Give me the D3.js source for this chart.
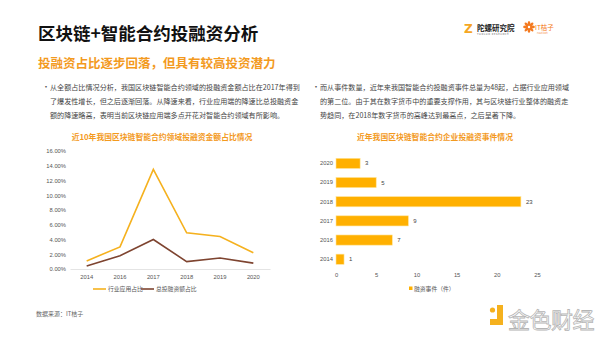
<!DOCTYPE html>
<html><head><meta charset="utf-8">
<script src="https://cdn.jsdelivr.net/npm/d3@7"></script>
<style>
body{margin:0;background:#fff;}
svg{display:block;font-family:"Noto Sans CJK SC","Noto Sans",sans-serif;}
</style></head><body>
<svg id="c" width="600" height="338"></svg>
<script>
const years = ["2014","2016","2017","2018","2019","2020"];
const industryShare = [0.011,0.030,0.135,0.049,0.044,0.022];
const totalShare = [0.004,0.018,0.040,0.010,0.015,0.008];
const yTicks = [0,0.02,0.04,0.06,0.08,0.10,0.12,0.14,0.16];
const barYears = ["2020","2019","2018","2017","2016","2014"];
const barValues = [3,5,23,9,7,1];
const xTicks = [0,5,10,15,20,25];
const leftText = ["从全额占比情况分析，我国区块链智能合约领域的投融资金额占比在2017年得到",
 "了爆发性增长，但之后逐渐回落。从降速来看，行业应用端的降速比总投融资金",
 "额的降速略高，表明当前区块链应用端多点开花对智能合约领域有所影响。"];
const rightText = ["而从事件数量，近年来我国智能合约投融资事件总量为48起，占据行业应用领域",
 "的第二位。由于其在数字货币中的重要支撑作用，其与区块链行业整体的融资走",
 "势趋同，在2018年数字货币的高峰达到最高点，之后呈著下降。"];

const svg = d3.select("#c");
const YEL="#F5B11E", BRN="#7E4430", ORG="#F39A1E", BAR="#FFB000";

// headers
svg.append("text").attr("x",38).attr("y",40).attr("font-size",17.5).attr("font-weight",700).attr("fill","#111").text("区块链+智能合约投融资分析");
svg.append("text").attr("x",38).attr("y",68).attr("font-size",12.5).attr("font-weight",700).attr("fill",ORG).text("投融资占比逐步回落，但具有较高投资潜力");

// logos
const lg = svg.append("g");
lg.append("text").attr("x",464).attr("y",33).attr("font-size",12).attr("font-weight",900).attr("fill","#F5A623").attr("font-family","DejaVu Sans").text("Z");
lg.append("text").attr("x",477).attr("y",31).attr("font-size",7.5).attr("font-weight",700).attr("fill","#222").text("陀螺研究院");
lg.append("text").attr("x",477).attr("y",35).attr("font-size",2.5).attr("fill","#666").attr("letter-spacing",0.6).text("TUOLUO RESEARCH");
const fl = lg.append("g").attr("transform","translate(529,27)");
for(let i=0;i<8;i++){fl.append("ellipse").attr("cx",0).attr("cy",-3).attr("rx",1.4).attr("ry",3).attr("fill","#F47A20").attr("transform",`rotate(${i*45})`);}
fl.append("circle").attr("r",1.2).attr("fill","#fff");
lg.append("text").attr("x",535).attr("y",29.5).attr("font-size",6.5).attr("fill","#F47A20").text("IT桔子");
lg.append("text").attr("x",537).attr("y",33.5).attr("font-size",2).attr("fill","#F47A20").text("ITJUZI.COM");

// bullet paragraphs
function para(x,lines){
  svg.append("text").attr("x",x-8).attr("y",90).attr("font-size",8).attr("fill","#555").text("•");
  lines.forEach((l,i)=>svg.append("text").attr("x",x).attr("y",90+i*14).attr("font-size",7.1).attr("fill","#444").text(l));
}
para(50,leftText); para(320,rightText);

// left chart
svg.append("text").attr("x",162).attr("y",140).attr("text-anchor","middle").attr("font-size",7.8).attr("font-weight",700).attr("fill",ORG).text("近10年我国区块链智能合约领域投融资金额占比情况");
const x = d3.scaleBand().domain(years).range([70,270]);
const y = d3.scaleLinear().domain([0,0.16]).range([269,151]);
const ya = svg.append("g").attr("transform","translate(70,0)")
  .call(d3.axisLeft(y).tickValues(yTicks).tickFormat(d3.format(".2%")).tickSize(0).tickPadding(4));
ya.select(".domain").remove();
ya.selectAll("text").attr("font-size",5.8).attr("fill","#555").attr("font-family","Liberation Sans, Arial");
const xa = svg.append("g").attr("transform","translate(0,269)")
  .call(d3.axisBottom(x).tickSize(0).tickPadding(6));
xa.select(".domain").attr("stroke","#d9d9d9").attr("stroke-width",0.7);
xa.selectAll("text").attr("font-size",5.8).attr("fill","#555").attr("font-family","Liberation Sans, Arial");
const line = d3.line().x((d,i)=>x(years[i])+x.bandwidth()/2).y(d=>y(d));
svg.append("path").datum(industryShare).attr("d",line).attr("fill","none").attr("stroke",YEL).attr("stroke-width",1.6);
svg.append("path").datum(totalShare).attr("d",line).attr("fill","none").attr("stroke",BRN).attr("stroke-width",1.6);
// legend
const leg=[{c:YEL,t:"行业应用占比",x:93},{c:BRN,t:"总投融资额占比",x:141}];
leg.forEach(d=>{
  svg.append("line").attr("x1",d.x).attr("x2",d.x+13).attr("y1",289).attr("y2",289).attr("stroke",d.c).attr("stroke-width",1.6);
  svg.append("text").attr("x",d.x+15).attr("y",291).attr("font-size",5.8).attr("fill","#555").text(d.t);
});

// right chart
svg.append("text").attr("x",435).attr("y",140).attr("text-anchor","middle").attr("font-size",7.8).attr("font-weight",700).attr("fill",ORG).text("近年我国区块链智能合约企业投融资事件情况");
const bx = d3.scaleLinear().domain([0,25]).range([336,537]);
const by = d3.scaleBand().domain(barYears).range([153.7,268.9]).paddingInner(0.47).paddingOuter(0.24);
const bya = svg.append("g").attr("transform","translate(336,0)").call(d3.axisLeft(by).tickSize(0).tickPadding(3));
bya.select(".domain").remove();
bya.selectAll("text").attr("font-size",5.8).attr("fill","#555").attr("font-family","Liberation Sans, Arial");
const bxa = svg.append("g").attr("transform","translate(0,272)").call(d3.axisBottom(bx).tickValues(xTicks).tickSize(0).tickPadding(1));
bxa.select(".domain").remove();
bxa.selectAll("text").attr("font-size",5.8).attr("fill","#555").attr("font-family","Liberation Sans, Arial");
svg.append("g").selectAll("rect").data(barValues).join("rect")
  .attr("x",bx(0)).attr("y",(d,i)=>by(barYears[i])).attr("width",d=>bx(d)-bx(0)).attr("height",by.bandwidth())
  .attr("fill",BAR).attr("stroke","#FFE59A").attr("stroke-width",0.6);
svg.append("g").selectAll("text").data(barValues).join("text")
  .attr("x",d=>bx(d)+5).attr("y",(d,i)=>by(barYears[i])+by.bandwidth()/2+2).attr("font-size",6).attr("fill","#444")
  .attr("font-family","Liberation Sans, Arial").text(d=>d);
svg.append("rect").attr("x",409).attr("y",286.5).attr("width",3.5).attr("height",3.5).attr("fill",BAR);
svg.append("text").attr("x",414).attr("y",290.5).attr("font-size",5.8).attr("fill","#555").text("融资事件（件）");

// source
svg.append("text").attr("x",36).attr("y",316).attr("font-size",6).attr("fill","#666").text("数据来源：IT桔子");

// watermark
const wm = svg.append("g");
wm.append("path").attr("d","M497,305 h6 v20 h-13 v-6 h7 z").attr("fill","#F5B11E");
wm.append("circle").attr("cx",492.5).attr("cy",310).attr("r",2.6).attr("fill","#F5B11E");
wm.append("text").attr("x",508).attr("y",328).attr("font-size",22).attr("fill","#fff").attr("stroke","#b5b5b5").attr("stroke-width",0.8).attr("letter-spacing",-0.5).text("金色财经");
</script></body></html>
